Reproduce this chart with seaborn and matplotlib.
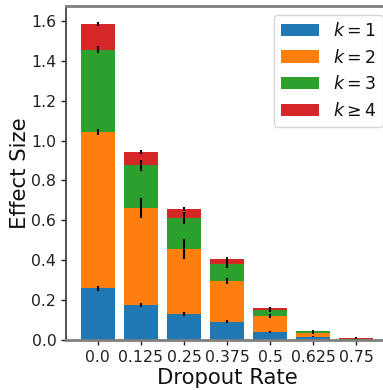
import numpy as np
import pandas as pd
import matplotlib
matplotlib.use("Agg")
import matplotlib.pyplot as plt
import seaborn as sns

# Chart data
dropout = ["0.0", "0.125", "0.25", "0.375", "0.5", "0.625", "0.75"]
k1 = [0.260, 0.175, 0.132, 0.092, 0.042, 0.017, 0.001]
k2 = [0.785, 0.485, 0.324, 0.204, 0.080, 0.020, 0.001]
k3 = [0.410, 0.217, 0.156, 0.087, 0.030, 0.006, 0.001]
k4 = [0.130, 0.066, 0.045, 0.023, 0.008, 0.002, 0.008]
err1 = [0.013, 0.010, 0.010, 0.008, 0.005, 0.004, 0.003]
err2 = [0.015, 0.050, 0.050, 0.015, 0.010, 0.005, 0.002]
err3 = [0.017, 0.027, 0.028, 0.020, 0.012, 0.004, 0.002]
err4 = [0.010, 0.012, 0.012, 0.012, 0.006, 0.003, 0.004]
labels = [r"$k=1$", r"$k=2$", r"$k=3$", r"$k\geq4$"]

sns.set_style("white")
colors = sns.color_palette("tab10")[:4]

segments = np.array([k1, k2, k3, k4])
errors = np.array([err1, err2, err3, err4])
tops = np.cumsum(segments, axis=0)

fig = plt.figure(figsize=(3.83, 3.90), dpi=100)
ax = fig.add_axes([0.1723, 0.1282, 0.841, 0.8564])

# draw cumulative totals from the top layer down so they stack
for i in range(3, -1, -1):
    df = pd.DataFrame({"Dropout Rate": dropout, "Effect Size": tops[i]})
    sns.barplot(data=df, x="Dropout Rate", y="Effect Size", color=colors[i],
                saturation=1, width=0.8, errorbar=None, label=labels[i],
                linewidth=0, edgecolor="none", ax=ax)

xs = np.arange(len(dropout))
for i in range(4):
    ax.errorbar(xs, tops[i], yerr=errors[i], fmt="none", ecolor="black",
                elinewidth=1.5, capsize=0, zorder=5)

ax.set_xlim(-0.74, 6.74)
ax.set_ylim(0, 1.675)
ax.set_yticks(np.arange(0, 1.61, 0.2))
ax.tick_params(axis="both", labelsize=11.3, length=3.5, width=1,
               bottom=True, left=True, colors="#222222")
ax.set_xlabel("Dropout Rate", fontsize=15.3, labelpad=2, color="#111111")
ax.set_ylabel("Effect Size", fontsize=15.3, labelpad=1, color="#111111")

for side in ["top", "bottom", "right"]:
    ax.spines[side].set_color("#808080")
    ax.spines[side].set_linewidth(2)
    ax.spines[side].set_zorder(6)
ax.spines["left"].set_color("#333333")
ax.spines["left"].set_linewidth(1.2)

handles, labs = ax.get_legend_handles_labels()
order = [labs.index(l) for l in labels]
leg = ax.legend([handles[j] for j in order], labels, loc="upper right",
                fontsize=12.5, frameon=True, bbox_to_anchor=(0.984, 0.973),
                borderaxespad=0, handlelength=2.2, labelspacing=0.5)
for t in leg.get_texts():
    t.set_color("#111111")

fig.savefig("out.png", dpi=100)
